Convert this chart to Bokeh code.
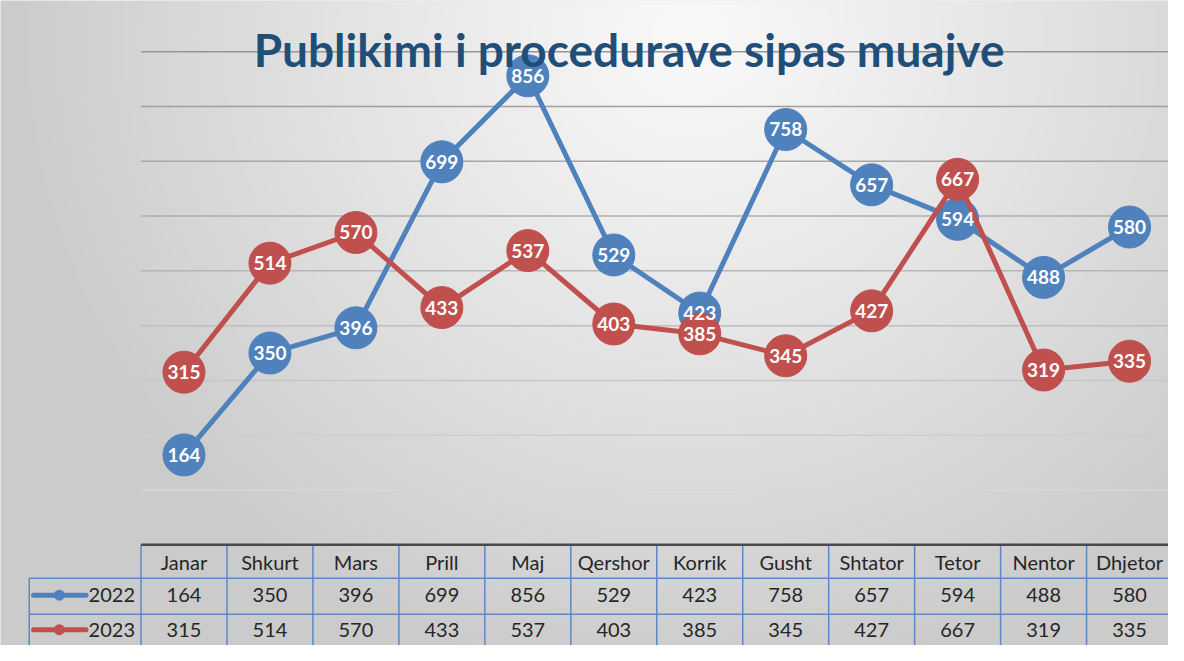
import numpy as np
from bokeh.plotting import figure
from bokeh.models import Range1d, Label
from bokeh.core.properties import value
from bokeh.embed import file_html
from bokeh.resources import INLINE

# ---------------- data ----------------
months = ["Janar", "Shkurt", "Mars", "Prill", "Maj", "Qershor",
          "Korrik", "Gusht", "Shtator", "Tetor", "Nentor", "Dhjetor"]
series_names = ["2022", "2023"]
v2022 = [164, 350, 396, 699, 856, 529, 423, 758, 657, 594, 488, 580]
v2023 = [315, 514, 570, 433, 537, 403, 385, 345, 427, 667, 319, 335]
grid_ticks = [100, 200, 300, 400, 500, 600, 700, 800, 900]
title_text = "Publikimi i procedurave sipas muajve"

# ---------------- layout ----------------
W, H = 1168, 645
PX_PER_CAT = 85.96
PX_PER_UNIT = 0.5479
X0 = -1.6345                      # left edge of canvas in category units
Y_BOTTOM = -183.8                 # bottom edge of canvas in value units
X1 = X0 + W / PX_PER_CAT
Y_TOP = Y_BOTTOM + H / PX_PER_UNIT

BLUE = "#4f81bd"
RED = "#c0504d"
BORDER = "#5a89c8"
FONT = "Lato"

p = figure(width=W, height=H, output_backend="svg", toolbar_location=None,
           x_range=Range1d(X0, X1), y_range=Range1d(Y_BOTTOM, Y_TOP),
           x_axis_type=None, y_axis_type=None, min_border=0)
p.outline_line_color = None
p.background_fill_color = "#e0e0e0"
p.border_fill_color = "#e0e0e0"

# background radial gradient
gw, gh = 292, 162
cx = (np.arange(gw) + 0.5) * W / gw
cy = H - (np.arange(gh) + 0.5) * H / gh
XX, YY = np.meshgrid(cx, cy)
d = np.sqrt((XX - 690) ** 2 + ((YY - 35) * 1.05) ** 2)
g = np.clip(249 - 46 * (d / 690) ** 1.1, 203, 250).astype(np.uint8)
img = np.zeros((gh, gw), dtype=np.uint32)
view = img.view(dtype=np.uint8).reshape((gh, gw, 4))
view[:, :, 0] = g
view[:, :, 1] = g
view[:, :, 2] = g
view[:, :, 3] = 255
p.image_rgba(image=[img], x=X0, y=Y_BOTTOM, dw=X1 - X0, dh=Y_TOP - Y_BOTTOM)

# horizontal grid lines (lighter at the top, darker lower down)
n = len(grid_ticks)
grid_cols = []
for i, t in enumerate(grid_ticks):
    f = i / (n - 1)
    c = int(150 + (215 - 150) * f)
    grid_cols.append("#%02x%02x%02x" % (c, c, c))
grid_cols = grid_cols[::-1]
p.segment(x0=[0] * n, y0=grid_ticks, x1=[12] * n, y1=grid_ticks,
          line_color=grid_cols, line_width=1.5)

# ---------------- data table ----------------
ROW_H = [0, -61.1, -126.9, -200]
LEG_L = -1.30
xs = [i + 0.5 for i in range(len(months))]

# horizontal borders
p.segment(x0=[LEG_L, LEG_L], y0=[ROW_H[1], ROW_H[2]], x1=[12, 12],
          y1=[ROW_H[1], ROW_H[2]], line_color=BORDER, line_width=1.5)
# vertical borders
vx = list(range(13))
p.segment(x0=vx, y0=[ROW_H[0]] * 13, x1=vx, y1=[ROW_H[3]] * 13,
          line_color=BORDER, line_width=1.5)
p.segment(x0=[LEG_L], y0=[ROW_H[1]], x1=[LEG_L], y1=[ROW_H[3]],
          line_color=BORDER, line_width=1.5)
# top border (axis line)
p.segment(x0=[0], y0=[0], x1=[12], y1=[0], line_color="#4a4a4a", line_width=2.5)

hdr_y = (ROW_H[0] + ROW_H[1]) / 2
r1_y = (ROW_H[1] + ROW_H[2]) / 2 + 2
r2_y = -155
text_kw = dict(text_font=value(FONT), text_font_size="20px", text_color="#262626",
               text_align="center", text_baseline="middle")
p.text(x=xs, y=[hdr_y] * 12, text=months, **text_kw)
p.text(x=xs, y=[r1_y] * 12, text=[str(v) for v in v2022], **text_kw)
p.text(x=xs, y=[r2_y] * 12, text=[str(v) for v in v2023], **text_kw)

# legend keys in the table
leg_y = [r1_y, r2_y]
p.segment(x0=[-1.25] * 2, y0=leg_y, x1=[-0.64] * 2, y1=leg_y,
          line_color=[BLUE, RED], line_width=5, line_cap="round")
p.scatter(x=[-0.95] * 2, y=leg_y, size=11, fill_color=[BLUE, RED], line_color=None)
p.text(x=[-0.07] * 2, y=leg_y, text=series_names, text_font=value(FONT),
       text_font_size="20px", text_color="#262626", text_align="right",
       text_baseline="middle")

# ---------------- series ----------------
p.line(xs, v2022, line_color=BLUE, line_width=5)
p.scatter(xs, v2022, size=42, fill_color=BLUE, line_color=BLUE)
p.line(xs, v2023, line_color=RED, line_width=5)
p.scatter(xs, v2023, size=42, fill_color=RED, line_color=RED)

lbl_kw = dict(text_font=value(FONT), text_font_size="19px", text_font_style="bold",
              text_color="white", text_align="center", text_baseline="middle")
p.text(xs, v2022, text=[str(v) for v in v2022], **lbl_kw)
p.text(xs, v2023, text=[str(v) for v in v2023], **lbl_kw)

# ---------------- title ----------------
p.add_layout(Label(x=5.678, y=903.6, text=title_text, text_font=FONT,
                   text_font_size="46px", text_font_style="bold",
                   text_color="#1f4e79", text_align="center",
                   text_baseline="alphabetic"))

open("out.html", "w").write(file_html(p, INLINE))
